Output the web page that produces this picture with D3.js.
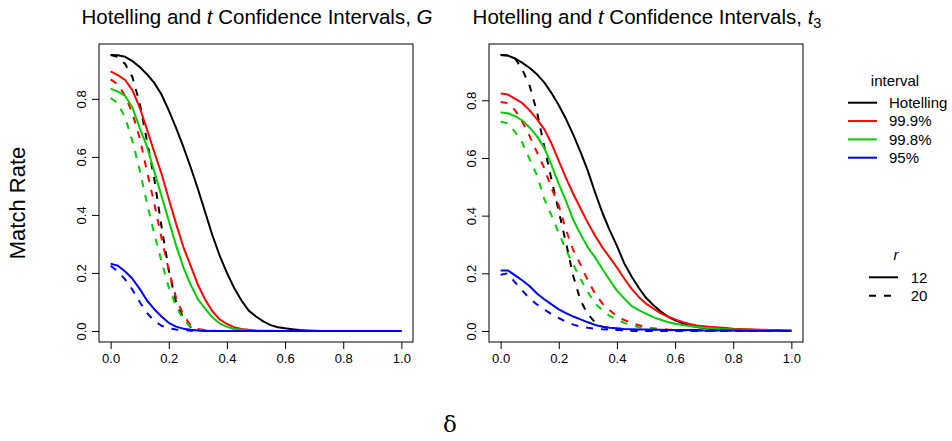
<!DOCTYPE html>
<html><head><meta charset="utf-8">
<script src="https://cdn.jsdelivr.net/npm/d3@7"></script>
<style>
body{margin:0;background:#fff}
text{font-family:"Liberation Sans",Arial,Helvetica,sans-serif;fill:#000}
</style>
</head><body><svg id="chart" width="952" height="441"></svg>
<script>
// ---------- data ----------
const delta = d3.range(41).map(i => +(i * 0.025).toFixed(3));
const xTicks = [0, 0.2, 0.4, 0.6, 0.8, 1.0];
const yTicks = [0, 0.2, 0.4, 0.6, 0.8];
const intervals = ["Hotelling", "99.9%", "99.8%", "95%"];
const rValues = ["12", "20"];
const colors = ["#000000", "#FF0000", "#00CD00", "#0000FF"];

// Panel G
const G_hot_12 = [.951,.95,.945,.93,.91,.885,.855,.815,.76,.70,.635,.565,.49,.41,.33,.26,.20,.148,.105,.07,.05,.033,.02,.013,.009,.006,.003,.002,.001,0,0,0,0,0,0,0,0,0,0,0,0];
const G_hot_20 = [.951,.945,.92,.875,.785,.655,.525,.36,.21,.10,.045,.013,.003,.001,0,0,0,0,0,0,0,0,0,0,0,0,0,0,0,0,0,0,0,0,0,0,0,0,0,0,0];
const G_999_12 = [.895,.882,.865,.83,.77,.695,.617,.542,.455,.37,.29,.225,.16,.108,.068,.04,.024,.013,.007,.004,.002,.001,.001,0,0,0,0,0,0,0,0,0,0,0,0,0,0,0,0,0,0];
const G_999_20 = [.867,.85,.81,.75,.665,.55,.44,.32,.21,.115,.055,.02,.007,.003,.001,0,0,0,0,0,0,0,0,0,0,0,0,0,0,0,0,0,0,0,0,0,0,0,0,0,0];
const G_998_12 = [.835,.825,.81,.77,.70,.635,.55,.465,.38,.295,.22,.16,.11,.077,.047,.026,.014,.007,.004,.002,.001,0,0,0,0,0,0,0,0,0,0,0,0,0,0,0,0,0,0,0,0];
const G_998_20 = [.803,.785,.735,.655,.555,.44,.335,.24,.15,.085,.04,.015,.005,.002,0,0,0,0,0,0,0,0,0,0,0,0,0,0,0,0,0,0,0,0,0,0,0,0,0,0,0];
const G_95_12  = [.232,.225,.205,.18,.145,.105,.075,.05,.028,.015,.008,.004,.002,.001,0,0,0,0,0,0,0,0,0,0,0,0,0,0,0,0,0,0,0,0,0,0,0,0,0,0,0];
const G_95_20  = [.225,.205,.178,.142,.10,.062,.035,.018,.009,.005,.003,.001,0,0,0,0,0,0,0,0,0,0,0,0,0,0,0,0,0,0,0,0,0,0,0,0,0,0,0,0,0];

// Panel t3
const T_hot_12 = [.957,.955,.945,.93,.912,.89,.862,.825,.783,.735,.68,.62,.555,.48,.41,.35,.295,.235,.19,.15,.115,.09,.068,.05,.037,.027,.019,.014,.01,.008,.006,.005,.004,.003,.002,.002,.001,.001,.001,0,0];
const T_hot_20 = [.957,.955,.945,.905,.85,.76,.64,.525,.415,.305,.19,.105,.058,.03,.015,.008,.004,.002,.001,0,0,0,0,0,0,0,0,0,0,0,0,0,0,0,0,0,0,0,0,0,0];
const T_999_12 = [.824,.82,.805,.79,.765,.735,.70,.65,.59,.53,.475,.425,.375,.33,.29,.255,.22,.182,.147,.118,.095,.078,.062,.05,.04,.031,.024,.019,.016,.014,.012,.01,.008,.007,.006,.005,.004,.003,.003,.002,.002];
const T_999_20 = [.794,.79,.765,.725,.675,.62,.565,.495,.435,.35,.28,.23,.175,.13,.095,.072,.052,.038,.027,.02,.013,.009,.007,.005,.004,.003,.002,.002,.001,.001,.001,0,0,0,0,0,0,0,0,0,0];
const T_998_12 = [.758,.755,.745,.73,.705,.675,.635,.575,.51,.45,.385,.335,.29,.255,.215,.177,.14,.113,.087,.072,.06,.048,.039,.031,.025,.021,.017,.014,.011,.009,.007,.006,.005,.004,.004,.003,.003,.002,.002,.001,.001];
const T_998_20 = [.726,.72,.69,.652,.595,.54,.458,.40,.34,.28,.23,.18,.135,.095,.072,.052,.04,.028,.02,.013,.009,.006,.004,.003,.002,.002,.001,.001,0,0,0,0,0,0,0,0,0,0,0,0,0];
const T_95_12  = [.21,.21,.193,.175,.155,.13,.11,.092,.075,.062,.05,.04,.03,.021,.015,.011,.009,.007,.006,.005,.005,.004,.004,.003,.003,.003,.003,.003,.002,.002,.002,.002,.002,.002,.001,.001,.001,.001,.001,.001,.001];
const T_95_20  = [.195,.2,.168,.14,.112,.092,.075,.058,.045,.032,.022,.015,.011,.008,.006,.005,.004,.003,.003,.002,.002,.001,.001,.001,0,0,0,0,0,0,0,0,0,0,0,0,0,0,0,0,0];

// ---------- assemble ----------
const panels = [
  {x0: 99, x1: 413, title: "G", series: [
    [G_hot_12, 0, 0], [G_hot_20, 0, 1], [G_999_12, 1, 0], [G_999_20, 1, 1],
    [G_998_12, 2, 0], [G_998_20, 2, 1], [G_95_12, 3, 0], [G_95_20, 3, 1]]},
  {x0: 489, x1: 803, title: "t3", series: [
    [T_hot_12, 0, 0], [T_hot_20, 0, 1], [T_999_12, 1, 0], [T_999_20, 1, 1],
    [T_998_12, 2, 0], [T_998_20, 2, 1], [T_95_12, 3, 0], [T_95_20, 3, 1]]}
];
const yTop = 44, yBot = 342;
const dashArr = "7,8";
const svg = d3.select("#chart");

panels.forEach(p => {
  const x = d3.scaleLinear().domain([-0.04, 1.04]).range([p.x0, p.x1]);
  const M = d3.max(p.series, s => d3.max(s[0]));
  const y = d3.scaleLinear().domain([-0.04 * M, 1.04 * M]).range([yBot, yTop]);
  const g = svg.append("g");

  // lines
  const line = d3.line().x((d, i) => x(delta[i])).y(d => y(d));
  p.series.forEach(([vals, ci, ri]) => {
    g.append("path").datum(vals).attr("d", line)
      .attr("fill", "none").attr("stroke", colors[ci]).attr("stroke-width", 2)
      .attr("stroke-linejoin", "round")
      .attr("stroke-dasharray", ri === 1 ? dashArr : null);
  });

  // box
  g.append("rect").attr("x", p.x0).attr("y", yTop).attr("width", p.x1 - p.x0).attr("height", yBot - yTop)
    .attr("fill", "none").attr("stroke", "#000").attr("stroke-width", 1);

  // x axis
  const xa = g.append("g").attr("transform", `translate(0,${yBot})`)
    .call(d3.axisBottom(x).tickValues(xTicks).tickFormat(d3.format(".1f")).tickSizeOuter(0).tickSizeInner(7).tickPadding(5));
  xa.select(".domain").remove();
  xa.selectAll("text").attr("font-size", 13).attr("font-family", "Liberation Sans, Arial, sans-serif");

  // y axis
  const ya = g.append("g").attr("transform", `translate(${p.x0},0)`)
    .call(d3.axisLeft(y).tickValues(yTicks).tickFormat(d3.format(".1f")).tickSizeOuter(0).tickSizeInner(7));
  ya.select(".domain").remove();
  ya.selectAll(".tick text").attr("font-size", 13).attr("font-family", "Liberation Sans, Arial, sans-serif")
    .attr("text-anchor", "middle").attr("dy", null).attr("x", null).attr("y", 0)
    .attr("transform", "translate(-13.5,0) rotate(-90)");

  // title
  const cx = (p.x0 + p.x1) / 2;
  const t = svg.append("text").attr("x", cx + 1).attr("y", 24).attr("text-anchor", "middle").attr("font-size", 20.5);
  t.append("tspan").text("Hotelling and ");
  t.append("tspan").attr("font-style", "italic").text("t");
  t.append("tspan").text(" Confidence Intervals, ");
  if (p.title === "G") {
    t.append("tspan").attr("font-style", "italic").text("G");
  } else {
    t.append("tspan").attr("font-style", "italic").text("t");
    t.append("tspan").attr("font-size", 14.5).attr("dy", 4).text("3");
  }
});

// axis titles
svg.append("text").attr("transform", "translate(25,203) rotate(-90)").attr("text-anchor", "middle")
  .attr("font-size", 22).text("Match Rate");
svg.append("text").attr("x", 450).attr("y", 432).attr("text-anchor", "middle")
  .attr("font-size", 23).style("font-family", "DejaVu Serif, Liberation Serif, serif").text("δ");

// legend: interval
const lg = svg.append("g");
lg.append("text").attr("x", 895).attr("y", 86).attr("text-anchor", "middle").attr("font-size", 15).text("interval");
const rowY = d3.scaleLinear().domain([0, 3]).range([102.7, 157.7]);
intervals.forEach((lab, i) => {
  lg.append("line").attr("x1", 848).attr("x2", 877).attr("y1", rowY(i)).attr("y2", rowY(i))
    .attr("stroke", colors[i]).attr("stroke-width", 2);
  lg.append("text").attr("x", 889).attr("y", rowY(i) + 5.3).attr("font-size", 15).text(lab);
});
// legend: r
lg.append("text").attr("x", 896).attr("y", 260).attr("text-anchor", "middle").attr("font-size", 15)
  .attr("font-style", "italic").text("r");
const rY = d3.scaleLinear().domain([0, 1]).range([277.3, 295.7]);
rValues.forEach((lab, i) => {
  lg.append("line").attr("x1", 869).attr("x2", 898).attr("y1", rY(i)).attr("y2", rY(i))
    .attr("stroke", "#000").attr("stroke-width", 2).attr("stroke-dasharray", i === 1 ? dashArr : null);
  lg.append("text").attr("x", 910.7).attr("y", rY(i) + 5.3).attr("font-size", 15).text(lab);
});
</script>
</body></html>
